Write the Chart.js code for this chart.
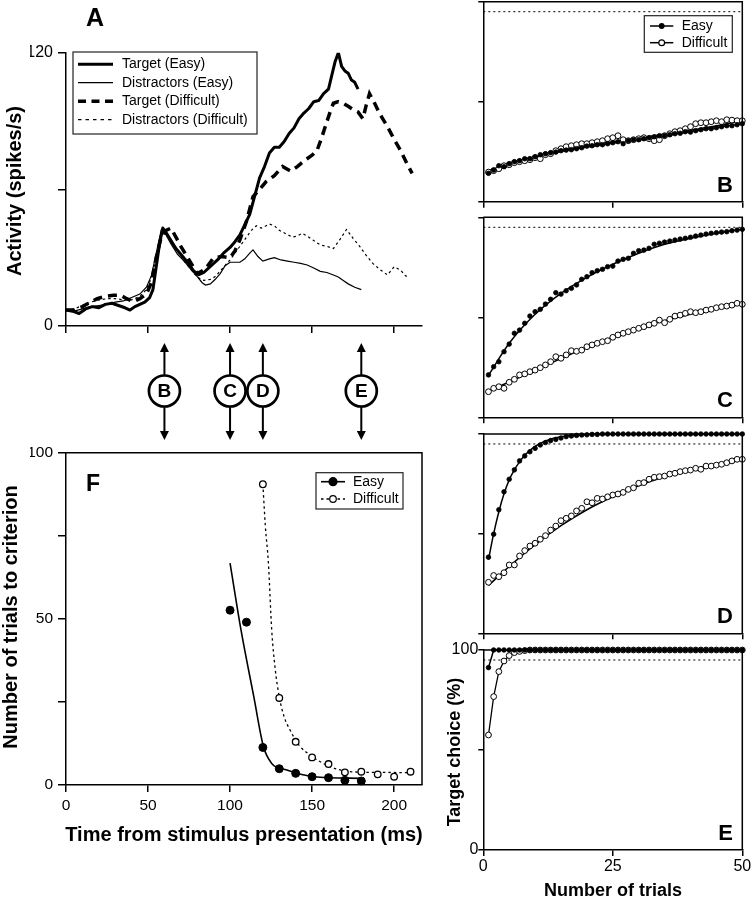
<!DOCTYPE html>
<html lang="en">
<head>
<meta charset="UTF-8">
<title>Activity and learning to criterion</title>
<script src="https://cdn.jsdelivr.net/npm/chart.js@4"></script>
<style>
  html, body { margin: 0; background: #fff; overflow: hidden; }
  #page { position: relative; width: 751px; height: 900px; overflow: hidden; }
  canvas { position: absolute; }
</style>
</head>
<body>
<div id="page">
  <canvas id="cA"></canvas>
  <canvas id="cF"></canvas>
  <canvas id="cB"></canvas>
  <canvas id="cC"></canvas>
  <canvas id="cD"></canvas>
  <canvas id="cE"></canvas>
</div>
<script>
const FONT = "'Liberation Sans', Arial, Helvetica, sans-serif";
Chart.defaults.font.family = FONT;
Chart.defaults.color = '#000';

// ---- Panel A: activity (spikes/s) against time (ms)
const targetEasyTime = [0,4,8,12,16,20,24,28,32,36,39,42,45,48,51,53,55,57,59,61,64,67,70,74,78,81,84,87,90,93,96,100,103,106,109,112,115,118,121,124,127,130,133,136,139,142,145,148,151,154,157,160,162,164,166,168,170,172,174,176,178];
const targetEasyRate = [7,6.5,5.5,7.5,8.5,8,9.5,10,9,8,7,8.5,9.5,10.5,12.5,16,26,36,43,41,37.5,34,31.5,28,24,22.5,23.5,25.5,27.5,29.5,32,34.5,37,40,44.5,49,57,65,70,76,78.5,78.5,81,84.5,87,91,93.5,95.5,98.5,99,102,104,110,116,120,114,112,111,108,107,104];

const distEasyTime = [0,5,10,15,20,25,30,35,40,45,49,52,55,58,61,64,68,72,76,80,83,85,88,91,94,97,100,103,106,109,112,114,117,120,124,127,131,135,139,143,147,151,155,159,163,166,169,172,176,180];
const distEasyRate = [7,6.5,7.5,8.5,9,9.5,10.5,11,12.5,14,17,22,32,42,40,36,31.5,28.5,25,21.7,19,18,18.5,20.5,23,26.5,28,28,28,29.5,32,33.4,30.5,28.5,29.5,30,29,28.5,28,27.5,26.8,25.5,24,23.5,22.4,21.5,20,18.5,17,16];

const targetDiffTime = [0,5,10,15,19,24,29,33,37,41,45,49,52,55,58,61,64,67,70,75,80,85,90,95,100,103,106,110,114,118,122,127,132,137,141,146,150,153,156,158,161,163,166,169,172,175,178,181,183,185,188,190,193,196,200,204,208,211];
const targetDiffRate = [7,7,8.5,10.5,12,13,13.5,13.6,12,10.7,12,14,19,30,39,42,43,39,35,29,23,25,30,30.5,30,33,37.8,46,56.8,60,63.4,66,70,68,70,73,75,77,83,87.5,94,97.8,98.5,97.8,96.5,95,94,91,97,102,98,95,91,87.5,82,77,71,67];

const distDiffTime = [0,5,10,15,20,25,30,35,40,45,49,52,55,58,61,64,68,72,76,80,84,88,91,95,100,103,106,110,113,116,119,122,124,127,130,134,138,141,144,147,151,155,159,163,167,171,175,179,183,187,191,196,200,204,207,209];
const distDiffRate = [7,7.5,9,10.5,11.4,12,12,11.5,11.5,13,16,21,30,40,41,37,33,28.5,25,21.5,20,20.5,21.7,25,29,32,35,39,42,44,43,44,44.8,44,42,40.5,39,39.5,40.7,39.5,37.5,35.6,35,34,38,42.4,38.5,35,31,27.5,25,22.4,26,24.5,22,21.7];

const seriesNamesA = ['Target (Easy)', 'Distractors (Easy)', 'Target (Difficult)', 'Distractors (Difficult)'];
const timeTicks = [0, 50, 100, 150, 200];
const timeLabels = ['0', '50', '100', '150', '200'];
const rateTicks = [0, 60, 120];
const rateLabels = ['0', '', '120'];

// times (ms) picked out below panel A, and the panel each one belongs to
const markerTimes = [60, 100, 120, 180];
const markerLetters = ['B', 'C', 'D', 'E'];

// ---- Panel F: number of trials to criterion
const fEasyTime = [100, 110, 120, 130, 140, 150, 160, 170, 180];
const fEasyTrials = [52.6, 49, 11.3, 4.9, 3.5, 2.5, 2.2, 1.4, 1.2];
const fDiffTime = [120, 130, 140, 150, 160, 170, 180, 190, 200, 210];
const fDiffTrials = [90.5, 26.2, 13, 8.3, 6.3, 3.8, 4, 3.2, 2.5, 4];
const fEasyFitTime = [100, 106.7, 114.5, 120.4, 125.4, 134.6, 151, 180.5];
const fEasyFit = [66.8, 46.6, 26.5, 11.5, 6.5, 4.5, 2.5, 2];
const fDiffFitTime = [120, 121.5, 123.4, 125.4, 127.5, 130, 133, 136.6, 142, 148.8, 155, 161, 173, 190, 211];
const fDiffFit = [90.5, 78, 66.6, 46.6, 35, 26.5, 20.5, 16.5, 12, 9, 7, 5.5, 4, 3.8, 3.7];
const trialTicksF = [0, 25, 50, 75, 100];
const trialLabelsF = ['0', '', '50', '', '100'];

// ---- Panels B-E: target choice (%) against trial number
const trials = [1,2,3,4,5,6,7,8,9,10,11,12,13,14,15,16,17,18,19,20,21,22,23,24,25,26,27,28,29,30,31,32,33,34,35,36,37,38,39,40,41,42,43,44,45,46,47,48,49,50];
const criterion = 95;

const bEasy = [14.2,15.8,18.0,17.5,19.0,20.0,20.5,21.5,21.5,22.5, 23.5,24.0,24.5,24.8,25.5,25.8,26.0,26.5,27.0,27.8, 28.0,28.5,28.5,29.0,29.5,30.0,29.0,30.5,31.0,31.0, 31.5,32.0,32.5,33.0,33.0,33.5,34.0,34.2,35.0,34.8, 35.5,36.0,36.5,36.5,37.0,37.5,38.0,38.0,38.5,39.0];
const bDiff = [14.8,15.5,16.5,18.0,18.5,19.5,20.0,20.5,21.0,22.0, 21.5,23.5,24.0,25.5,26.5,27.5,28.0,28.5,29.0,29.0, 29.5,30.0,30.5,31.5,32.0,33.0,31.0,30.5,31.0,31.5, 32.0,31.5,30.5,31.0,33.0,34.0,35.0,35.5,36.5,37.5, 39.0,39.5,39.5,40.0,40.5,40.0,41.0,40.8,40.5,40.5];
const bFitTrial = [1, 10, 20, 30, 40, 50];
const bEasyFit = [15.5, 22.5, 27.3, 31.2, 35.0, 39.0];
const bDiffFit = [15.0, 22.3, 28.0, 31.8, 35.8, 40.3];

const cEasy = [21.2,25.3,27.8,32.8,36.6,42.0,43.6,47.0,50.6,52.8, 54.0,56.6,59.0,62.3,61.6,63.3,64.5,66.2,69.0,70.3, 72.3,73.3,74.0,75.3,75.6,78.1,79.0,79.5,82.0,83.3, 83.6,84.5,86.5,87.0,87.6,88.1,88.6,89.1,89.5,90.0, 90.6,91.1,91.6,92.0,92.3,92.6,92.8,93.3,93.6,94.0];
const cDiff = [12.8,14.5,15.3,14.5,17.5,19.0,21.2,21.7,22.8,23.6, 24.8,26.2,27.8,30.3,29.5,31.2,33.3,33.0,33.6,35.3, 36.2,37.0,37.8,38.3,40.0,41.2,42.0,42.8,43.6,44.5, 45.3,46.2,47.0,48.6,47.3,49.0,50.6,51.1,52.0,52.8, 52.3,52.8,53.6,54.0,54.8,55.3,55.6,56.1,57.0,56.5];
const cEasyFitTrial = [1, 5, 10, 15, 20, 25, 30, 35, 40, 45, 50];
const cEasyFit = [21, 37, 51.5, 62, 70, 76.5, 82, 86.5, 89.5, 92, 94];
const cDiffFitTrial = [1, 10, 20, 30, 40, 50];
const cDiffFit = [13, 23.5, 35, 44.5, 51.5, 56.5];

const dEasy = [38.2,49.7,62.0,71.0,77.3,82.0,86.5,89.0,91.1,92.8, 94.5,95.7,96.7,97.3,98.0,98.7,99.0,99.3,99.5,99.6, 99.8,99.8,100,100,100,100,100,100,100,100, 100,100,100,100,100,100,100,100,100,100, 100,100,100,100,100,100,100,100,100,100];
const dDiff = [25.6,29.0,28.4,30.4,34.3,34.3,38.8,41.5,43.8,45.2, 47.2,49.0,51.8,53.8,56.5,57.7,58.9,61.4,62.7,66.0, 65.5,67.7,67.4,68.5,69.4,69.9,70.7,72.2,73.0,75.3, 75.6,77.3,78.3,78.6,78.9,79.9,80.3,81.1,81.6,81.9, 82.8,82.3,83.9,83.9,84.4,84.8,85.6,86.5,87.3,87.3];
const dEasyFitTrial = [1, 2, 3, 4, 5, 6, 7, 8, 9, 10, 12, 15, 20, 25, 50];
const dEasyFit = [37, 50, 61, 70, 77, 82, 86, 89.3, 91.8, 93.8, 96.5, 98.6, 99.7, 100, 100];
const dDiffFitTrial = [1, 5, 10, 15, 20, 25, 30, 35, 40, 45, 50];
const dDiffFit = [24, 33.5, 44.5, 54, 62, 68.5, 74, 78.5, 82, 85, 87.5];

const eEasy = [91.2,100,100,100,100,100,100,100,100,100, 100,100,100,100,100,100,100,100,100,100, 100,100,100,100,100,100,100,100,100,100, 100,100,100,100,100,100,100,100,100,100, 100,100,100,100,100,100,100,100,100,100];
const eDiff = [57.5,76.7,89.2,94.5,97.2,98.7,99.3,99.7,100,100, 100,100,100,100,100,100,100,100,100,100, 100,100,100,100,100,100,100,100,100,100, 100,100,100,100,100,100,100,100,100,100, 100,100,100,100,100,100,100,100,100,100];

const trialTicks = [0, 25, 50];
const trialLabels = ['0', '25', '50'];
const pctTicks = [0, 50, 100];
const pctLabels = ['0', '', '100'];

// ---------------------------------------------------------------------
function xy(xs, ys) { return xs.map((x, i) => ({ x: x, y: ys[i] })); }

// canvas box [left, top, width, height] and plot area [left, top, right, bottom] in page pixels
function setupCanvas(id, box) {
  const c = document.getElementById(id);
  c.width = box[2]; c.height = box[3];
  c.style.left = box[0] + 'px'; c.style.top = box[1] + 'px';
  return c;
}
function fitLayout(box, area, yw, xh) {
  return { padding: {
    left: area[0] - box[0] - yw,
    top: area[1] - box[1],
    right: box[0] + box[2] - area[2],
    bottom: box[1] + box[3] - area[3] - xh
  } };
}

function axis(o) {
  return {
    type: 'linear', position: o.pos, min: o.min, max: o.max,
    afterBuildTicks: s => { s.ticks = o.ticks.map(v => ({ value: v })); },
    afterFit: s => { if (o.pos === 'left') s.width = o.size; else s.height = o.size; },
    grid: { display: true, drawOnChartArea: false, drawTicks: true, tickLength: o.tickLen,
            color: '#000', lineWidth: 1.5, tickWidth: 1.5 },
    border: { display: true, color: '#000', width: 1.5 },
    ticks: { display: !!o.labels, autoSkip: false, maxRotation: 0, padding: o.pad || 0,
             color: '#000', font: { size: o.fontSize || 15 },
             callback: (v, i) => (o.labels ? o.labels[i] : '') }
  };
}

function baseOptions(box, area, yw, xh, scales) {
  return {
    responsive: false, animation: false, events: [],
    layout: fitLayout(box, area, yw, xh),
    plugins: { legend: { display: false }, tooltip: { enabled: false } },
    scales: scales
  };
}

const framePlugin = {
  id: 'frame',
  afterDraw(chart) {
    const ctx = chart.ctx, a = chart.chartArea;
    ctx.save();
    ctx.strokeStyle = '#000'; ctx.lineWidth = 1.5;
    ctx.beginPath();
    ctx.moveTo(a.left, a.top); ctx.lineTo(a.right, a.top); ctx.lineTo(a.right, a.bottom);
    ctx.stroke();
    ctx.restore();
  }
};

const criterionPlugin = {
  id: 'criterion',
  beforeDatasetsDraw(chart) {
    const ctx = chart.ctx, a = chart.chartArea;
    const y = chart.scales.y.getPixelForValue(criterion);
    ctx.save();
    ctx.strokeStyle = '#000'; ctx.lineWidth = 1; ctx.setLineDash([2, 3]);
    ctx.beginPath(); ctx.moveTo(a.left, y); ctx.lineTo(a.right, y); ctx.stroke();
    ctx.restore();
  }
};

function drawText(ctx, t) {
  ctx.save();
  ctx.font = t.font; ctx.fillStyle = '#000';
  ctx.textAlign = t.align || 'left';
  ctx.textBaseline = t.base || 'alphabetic';
  ctx.translate(t.x, t.y);
  if (t.rot) ctx.rotate(t.rot);
  ctx.fillText(t.text, 0, 0);
  ctx.restore();
}

function drawMarker(ctx, x, y, r, filled) {
  ctx.save();
  ctx.setLineDash([]);
  ctx.beginPath(); ctx.arc(x, y, r, 0, Math.PI * 2);
  ctx.fillStyle = filled ? '#000' : '#fff'; ctx.fill();
  ctx.strokeStyle = '#000'; ctx.lineWidth = 1.2; ctx.stroke();
  ctx.restore();
}

function drawSample(ctx, x1, x2, y, width, dash) {
  ctx.save();
  ctx.strokeStyle = '#000'; ctx.lineWidth = width; ctx.setLineDash(dash || []);
  ctx.beginPath(); ctx.moveTo(x1, y); ctx.lineTo(x2, y); ctx.stroke();
  ctx.restore();
}

function legendBox(ctx, x, y, w, h) {
  ctx.save();
  ctx.strokeStyle = '#222'; ctx.lineWidth = 1.2;
  ctx.strokeRect(x, y, w, h);
  ctx.restore();
}

// draws page-coordinate extras on a chart living in box
function extrasPlugin(box, texts, draw) {
  return {
    id: 'extras',
    afterDraw(chart) {
      const ctx = chart.ctx;
      ctx.save();
      ctx.translate(-box[0], -box[1]);
      if (draw) draw(chart, ctx);
      texts.forEach(t => drawText(ctx, t));
      ctx.restore();
    }
  };
}

// ---------------------------------------------------------------------
// Panel A
const boxA = [0, 0, 440, 446];
const areaA = [66, 52.7, 422, 326];
new Chart(setupCanvas('cA', boxA), {
  type: 'scatter',
  data: { datasets: [
    { label: seriesNamesA[0], data: xy(targetEasyTime, targetEasyRate), showLine: true,
      borderColor: '#000', borderWidth: 3, pointRadius: 0, borderJoinStyle: 'round' },
    { label: seriesNamesA[1], data: xy(distEasyTime, distEasyRate), showLine: true,
      borderColor: '#000', borderWidth: 1.2, pointRadius: 0 },
    { label: seriesNamesA[2], data: xy(targetDiffTime, targetDiffRate), showLine: true,
      borderColor: '#000', borderWidth: 3.5, borderDash: [9, 6], pointRadius: 0 },
    { label: seriesNamesA[3], data: xy(distDiffTime, distDiffRate), showLine: true,
      borderColor: '#000', borderWidth: 1.2, borderDash: [2.5, 3], pointRadius: 0 }
  ] },
  options: baseOptions(boxA, areaA, 36, 20, {
    x: axis({ pos: 'bottom', min: 0, max: 217, ticks: timeTicks, size: 20, tickLen: 7 }),
    y: axis({ pos: 'left', min: 0, max: 120, ticks: rateTicks, labels: rateLabels, size: 36,
              tickLen: 8, pad: 5, fontSize: 16 })
  }),
  plugins: [extrasPlugin(boxA, [
    { text: 'A', x: 86, y: 26, font: 'bold 25px ' + FONT },
    { text: 'Activity (spikes/s)', x: 15, y: 191, font: 'bold 20px ' + FONT,
      align: 'center', base: 'middle', rot: -Math.PI / 2 }
  ], (chart, ctx) => {
    // legend
    legendBox(ctx, 73, 52, 184, 82);
    const rows = [64.3, 82.7, 101.2, 119.7];
    chart.data.datasets.forEach((ds, i) => {
      const dash = i === 2 ? [8, 5.5] : (i === 3 ? [3.5, 4] : []);
      drawSample(ctx, 78, 113, rows[i], ds.borderWidth, dash);
      drawText(ctx, { text: ds.label, x: 122, y: rows[i], font: '14px ' + FONT, base: 'middle' });
    });
    // arrows pointing at the times shown in panels B-E
    const xs = chart.scales.x;
    markerTimes.forEach((t, i) => {
      const x = xs.getPixelForValue(t);
      const cy = 391, r = 15.5;
      ctx.save();
      ctx.strokeStyle = '#000'; ctx.fillStyle = '#000'; ctx.lineWidth = 2;
      ctx.beginPath();
      ctx.moveTo(x, cy - r); ctx.lineTo(x, 350);
      ctx.moveTo(x, cy + r); ctx.lineTo(x, 433);
      ctx.stroke();
      ctx.beginPath(); ctx.moveTo(x, 343); ctx.lineTo(x - 4.5, 352); ctx.lineTo(x + 4.5, 352); ctx.closePath(); ctx.fill();
      ctx.beginPath(); ctx.moveTo(x, 440); ctx.lineTo(x - 4.5, 431); ctx.lineTo(x + 4.5, 431); ctx.closePath(); ctx.fill();
      ctx.lineWidth = 2.7;
      ctx.beginPath(); ctx.arc(x, cy, r, 0, Math.PI * 2); ctx.stroke();
      ctx.restore();
      drawText(ctx, { text: markerLetters[i], x: x, y: cy + 1, font: 'bold 19px ' + FONT,
                      align: 'center', base: 'middle' });
    });
  })]
});

// Panel F
const boxF = [0, 430, 440, 470];
const areaF = [66, 452.7, 422, 785];
new Chart(setupCanvas('cF', boxF), {
  type: 'scatter',
  data: { datasets: [
    { label: 'Easy', data: xy(fEasyTime, fEasyTrials), pointRadius: 4,
      pointBackgroundColor: '#000', pointBorderColor: '#000', pointBorderWidth: 1, clip: 6 },
    { label: 'Difficult', data: xy(fDiffTime, fDiffTrials), pointRadius: 3.3,
      pointBackgroundColor: '#fff', pointBorderColor: '#000', pointBorderWidth: 1.3, clip: 6 },
    { data: xy(fEasyFitTime, fEasyFit), showLine: true, pointRadius: 0, borderColor: '#000',
      borderWidth: 1.6, cubicInterpolationMode: 'monotone' },
    { data: xy(fDiffFitTime, fDiffFit), showLine: true, pointRadius: 0, borderColor: '#000',
      borderWidth: 1.3, borderDash: [2.5, 3], cubicInterpolationMode: 'monotone' }
  ] },
  options: baseOptions(boxF, areaF, 36, 30, {
    x: axis({ pos: 'bottom', min: 0, max: 217, ticks: timeTicks, labels: timeLabels, size: 30,
              tickLen: 7, pad: 4, fontSize: 15.5 }),
    y: axis({ pos: 'left', min: 0, max: 100, ticks: trialTicksF, labels: trialLabelsF, size: 36,
              tickLen: 8, pad: 5, fontSize: 15.5 })
  }),
  plugins: [framePlugin, extrasPlugin(boxF, [
    { text: 'F', x: 86, y: 491, font: 'bold 23px ' + FONT },
    { text: 'Number of trials to criterion', x: 11, y: 617, font: 'bold 20px ' + FONT,
      align: 'center', base: 'middle', rot: -Math.PI / 2 },
    { text: 'Time from stimulus presentation (ms)', x: 244, y: 841, font: 'bold 20px ' + FONT,
      align: 'center' }
  ], (chart, ctx) => {
    legendBox(ctx, 316, 472.7, 87, 36.3);
    drawSample(ctx, 321, 345, 481.7, 1.6, []);
    drawMarker(ctx, 333, 481.7, 4, true);
    drawSample(ctx, 321, 345, 499, 1.3, [2.5, 3]);
    drawMarker(ctx, 333, 499, 3.3, false);
    drawText(ctx, { text: 'Easy', x: 353, y: 481.7, font: '14px ' + FONT, base: 'middle' });
    drawText(ctx, { text: 'Difficult', x: 353, y: 499, font: '14px ' + FONT, base: 'middle' });
  })]
});

// Panels B-E share one layout
function learningPanel(id, box, area, letter, sets, opts) {
  const xh = opts.xLabels ? 28 : 15;
  const texts = [{ text: letter, x: 733, y: area[3] - 10, font: 'bold 22px ' + FONT, align: 'right' }].concat(opts.texts || []);
  return new Chart(setupCanvas(id, box), {
    type: 'scatter',
    data: { datasets: sets },
    options: baseOptions(box, area, 38, xh, {
      x: axis({ pos: 'bottom', min: 0, max: 50, ticks: trialTicks, labels: opts.xLabels, size: xh,
                tickLen: 6, pad: 1, fontSize: 16 }),
      y: axis({ pos: 'left', min: 0, max: 100, ticks: pctTicks, labels: opts.yLabels, size: 38,
                tickLen: 5, pad: 0, fontSize: 16 })
    }),
    plugins: [framePlugin, criterionPlugin, extrasPlugin(box, texts, opts.draw)]
  });
}
function easyPts(v) {
  return { label: 'Easy', data: xy(trials, v), pointRadius: 2.3, pointBackgroundColor: '#000',
           pointBorderColor: '#000', pointBorderWidth: 0.8, clip: 6 };
}
function diffPts(v) {
  return { label: 'Difficult', data: xy(trials, v), pointRadius: 2.9, pointBackgroundColor: '#fff',
           pointBorderColor: '#000', pointBorderWidth: 1, clip: 6 };
}
function fitLine(t, v) {
  return { data: xy(t, v), showLine: true, pointRadius: 0, borderColor: '#000', borderWidth: 1.5,
           cubicInterpolationMode: 'monotone', clip: 2 };
}

const right = [483.3, 742.3];
learningPanel('cB', [440, -20, 320, 240], [right[0], 1.7, right[1], 201.7], 'B',
  [easyPts(bEasy), diffPts(bDiff), fitLine(bFitTrial, bEasyFit), fitLine(bFitTrial, bDiffFit)],
  { draw: (chart, ctx) => {
      legendBox(ctx, 644.3, 15.7, 88, 36.6);
      drawSample(ctx, 650, 673.3, 26, 1.5, []);
      drawMarker(ctx, 661.7, 26, 2.3, true);
      drawSample(ctx, 650, 673.3, 42.7, 1.5, []);
      drawMarker(ctx, 661.7, 42.7, 2.9, false);
      drawText(ctx, { text: 'Easy', x: 681.7, y: 26, font: '14px ' + FONT, base: 'middle' });
      drawText(ctx, { text: 'Difficult', x: 681.7, y: 42.7, font: '14px ' + FONT, base: 'middle' });
  } });

learningPanel('cC', [440, 200, 320, 240], [right[0], 217.3, right[1], 417.3], 'C',
  [easyPts(cEasy), diffPts(cDiff), fitLine(cEasyFitTrial, cEasyFit), fitLine(cDiffFitTrial, cDiffFit)], {});

learningPanel('cD', [440, 415, 320, 240], [right[0], 434, right[1], 633.3], 'D',
  [easyPts(dEasy), diffPts(dDiff), fitLine(dEasyFitTrial, dEasyFit), fitLine(dDiffFitTrial, dDiffFit)], {});

const eEasySet = Object.assign(easyPts(eEasy), { showLine: true, borderColor: '#000', borderWidth: 1.5 });
const eDiffSet = Object.assign(diffPts(eDiff), { showLine: true, borderColor: '#000', borderWidth: 1.3 });
learningPanel('cE', [440, 630, 320, 270], [right[0], 650, right[1], 850], 'E',
  [eEasySet, eDiffSet],
  { xLabels: trialLabels, yLabels: pctLabels, texts: [
      { text: 'Number of trials', x: 613, y: 896, font: 'bold 18px ' + FONT, align: 'center' },
      { text: 'Target choice (%)', x: 455, y: 752, font: 'bold 18px ' + FONT,
        align: 'center', base: 'middle', rot: -Math.PI / 2 }
  ] });
</script>
</body>
</html>
